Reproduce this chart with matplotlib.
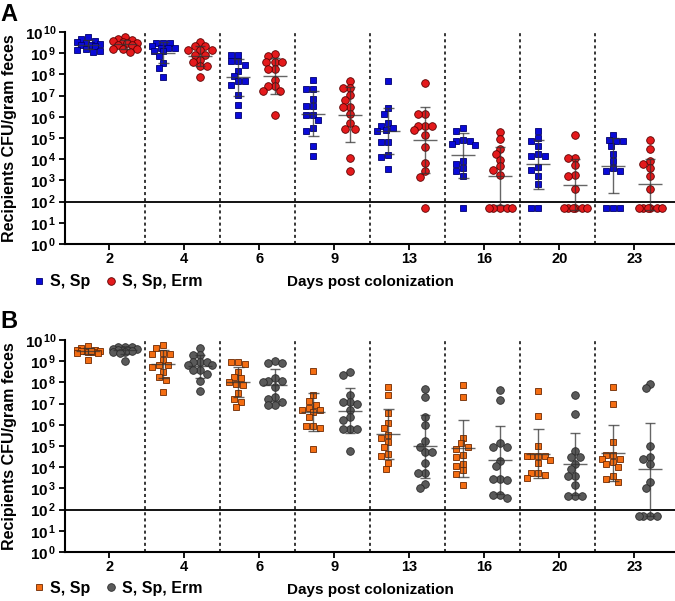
import numpy as np
import matplotlib
matplotlib.use("Agg")
import matplotlib.pyplot as plt
from matplotlib.lines import Line2D

plt.rcParams["font.family"] = ["Liberation Sans", "DejaVu Sans"]
plt.rcParams["font.weight"] = "bold"
plt.rcParams["mathtext.fontset"] = "custom"
plt.rcParams["mathtext.rm"] = "Liberation Sans:bold"
plt.rcParams["mathtext.it"] = "Liberation Sans:bold"
plt.rcParams["mathtext.bf"] = "Liberation Sans:bold"
plt.rcParams["mathtext.default"] = "rm"

days = ["2", "4", "6", "9", "13", "16", "20", "23"]
lod = 100  # detection limit line

# log10 CFU/gram feces (values below LOD drawn at ~10^1.7)
a_sp = [
    [9.75, 9.65, 9.6, 9.55, 9.5, 9.45, 9.4, 9.4, 9.35, 9.2, 9.15, 9.1, 9.05],
    [9.48, 9.48, 9.48, 9.35, 9.25, 9.25, 9.25, 9.09, 9.09, 8.85, 8.55, 8.3, 7.86],
    [8.93, 8.93, 8.62, 8.62, 8.46, 8.14, 7.91, 7.67, 7.67, 7.52, 7.04, 6.57, 6.1],
    [7.75, 7.31, 7.31, 6.84, 6.53, 6.53, 6.1, 6.1, 5.83, 5.47, 5.31, 4.64, 4.14],
    [7.67, 6.41, 6.15, 5.71, 5.58, 5.47, 5.36, 5.31, 4.81, 4.81, 4.21, 4.1, 3.54],
    [5.47, 5.31, 4.92, 4.84, 4.84, 4.72, 4.67, 3.9, 3.77, 3.58, 3.43, 3.22, 1.7],
    [5.35, 5.0, 4.87, 4.61, 4.26, 4.14, 4.14, 3.62, 3.51, 3.19, 2.85, 1.7, 1.7],
    [5.16, 4.9, 4.87, 4.87, 4.61, 4.26, 3.9, 3.58, 3.43, 3.43, 1.7, 1.7, 1.7],
]
a_erm = [
    [9.75, 9.67, 9.64, 9.57, 9.52, 9.48, 9.48, 9.4, 9.4, 9.22, 9.2, 9.2, 9.05],
    [9.53, 9.32, 9.32, 9.17, 9.17, 9.17, 8.93, 8.93, 8.7, 8.6, 8.38, 8.38, 7.9],
    [8.98, 8.85, 8.57, 8.57, 8.57, 8.25, 8.25, 7.75, 7.44, 7.44, 7.2, 7.2, 6.07],
    [7.7, 7.36, 7.36, 7.04, 6.81, 6.46, 6.46, 6.15, 5.71, 5.44, 5.44, 4.06, 3.43],
    [7.59, 6.15, 6.15, 5.58, 5.58, 5.58, 5.39, 5.16, 4.58, 3.82, 3.43, 3.16, 1.7],
    [5.28, 4.95, 4.48, 4.26, 3.98, 3.66, 3.51, 3.27, 1.7, 1.7, 1.7, 1.7, 1.7],
    [5.16, 4.06, 4.06, 3.74, 3.27, 3.2, 2.59, 1.7, 1.7, 1.7, 1.7, 1.7, 1.7],
    [4.89, 4.5, 3.93, 3.77, 3.58, 3.19, 2.59, 1.7, 1.7, 1.7, 1.7, 1.7, 1.7],
]
b_sp = [
    [9.72, 9.61, 9.55, 9.53, 9.5, 9.5, 9.48, 9.45, 9.45, 9.4, 9.37, 9.5, 9.06],
    [9.76, 9.61, 9.37, 9.34, 9.34, 9.06, 8.82, 8.82, 8.75, 8.5, 8.27, 8.11, 7.56],
    [8.98, 8.98, 8.87, 8.5, 8.24, 8.19, 8.03, 7.95, 7.9, 7.48, 7.24, 7.09, 6.85],
    [8.54, 7.4, 7.13, 6.93, 6.8, 6.72, 6.72, 6.61, 6.38, 5.94, 5.94, 5.87, 4.88],
    [7.8, 7.43, 6.54, 6.11, 5.86, 5.54, 5.39, 5.2, 4.96, 4.61, 4.55, 4.22, 3.94],
    [7.86, 7.29, 5.4, 5.12, 4.96, 4.85, 4.6, 4.46, 4.17, 4.05, 3.86, 3.7, 3.18],
    [7.61, 6.43, 4.99, 4.54, 4.54, 4.54, 4.54, 4.36, 4.2, 3.73, 3.73, 3.62, 3.5],
    [7.8, 6.96, 5.17, 4.57, 4.57, 4.41, 4.4, 4.25, 4.14, 4.02, 3.57, 3.43, 3.31],
]
b_erm = [
    [9.69, 9.69, 9.69, 9.6, 9.56, 9.55, 9.53, 9.53, 9.5, 9.45, 9.45, 9.37, 9.02],
    [9.61, 9.29, 9.29, 8.98, 8.98, 8.98, 8.82, 8.82, 8.58, 8.58, 8.39, 8.06, 7.59],
    [9.0, 8.93, 8.93, 8.19, 8.06, 8.06, 8.03, 7.8, 7.29, 7.24, 7.09, 6.93, 6.93],
    [8.5, 8.35, 7.4, 7.09, 7.09, 6.98, 6.69, 6.35, 6.22, 5.78, 5.78, 5.78, 4.76],
    [7.67, 7.29, 6.38, 5.97, 5.23, 4.96, 4.72, 4.72, 4.2, 3.73, 3.73, 3.23, 3.02],
    [7.64, 7.17, 5.15, 4.96, 4.96, 4.3, 4.05, 3.46, 3.46, 3.39, 2.71, 2.71, 2.57],
    [7.4, 6.5, 4.76, 4.49, 4.49, 4.17, 3.9, 3.59, 3.59, 3.15, 2.63, 2.63, 2.63],
    [7.95, 7.72, 4.99, 4.5, 4.41, 4.13, 3.31, 3.04, 1.69, 1.69, 1.69, 1.69],
]


def swarm(vals, d=0.062, xpx=75.0, ypx=21.2, size=6.3, maxk=5):
    # small beeswarm: shift sideways in half steps on overlap, at most +-maxk/2 steps
    cands = [0.0]
    for k in range(1, maxk + 1):
        cands += [-k * d / 2, k * d / 2]
    order = np.argsort(-vals, kind="stable")
    placed = []
    offs = np.zeros(len(vals))
    for i in order:
        best, best_dist = 0.0, -1.0
        for c in cands:
            dist = min([np.hypot((c - ox) * xpx, (vals[i] - oy) * ypx)
                        for ox, oy in placed] or [99.0])
            if dist >= size:
                best = c
                break
            if dist > best_dist:
                best, best_dist = c, dist
        offs[i] = best
        placed.append((best, vals[i]))
    return offs


def draw_group(ax, center, logs, marker, face, edge, ms):
    logs = np.array(logs)
    x = center + swarm(logs)
    ax.plot(x, 10 ** logs, linestyle="none", marker=marker, ms=ms,
            mfc=face, mec=edge, mew=0.6, zorder=3)
    m, s = logs.mean(), logs.std(ddof=1)
    bar_kw = dict(color="#333333", alpha=0.75, lw=1.0, zorder=4)
    ax.vlines(center, 10 ** (m - s), 10 ** (m + s), **bar_kw)
    ax.hlines([10 ** (m - s), 10 ** (m + s)], center - 0.07, center + 0.07, **bar_kw)
    ax.hlines(10 ** m, center - 0.16, center + 0.16, **bar_kw)


def draw_panel(ax, sp, erm, sp_style, erm_style):
    for i in range(len(days)):
        draw_group(ax, i - 0.28, sp[i], "s", *sp_style)
        draw_group(ax, i + 0.21, erm[i], "o", *erm_style)
    for i in range(len(days) - 1):
        ax.axvline(i + 0.47, color="black", ls=(0, (2, 2)), lw=1.1, zorder=1)
    ax.axhline(lod, color="black", lw=1.3, zorder=2)

    ax.set_yscale("log")
    ax.set_ylim(1, 1e10)
    ax.set_xlim(-0.59, 7.54)
    ax.set_yticks([10.0 ** k for k in range(11)])
    ax.set_yticklabels([r"$10^{\,%d}$" % k for k in range(11)])
    ax.yaxis.set_minor_locator(matplotlib.ticker.NullLocator())
    ax.set_xticks(range(len(days)))
    ax.set_xticklabels(days)
    ax.tick_params(axis="both", labelsize=10.5, width=1.3, length=4, pad=2)
    ax.tick_params(axis="y", labelsize=11)
    for side in ["top", "right"]:
        ax.spines[side].set_visible(False)
    for side in ["left", "bottom"]:
        ax.spines[side].set_linewidth(1.5)
    ax.text(0.5, -0.18, "Days post colonization", transform=ax.transAxes,
            ha="center", va="center", fontsize=11, fontweight="bold")


fig = plt.figure(figsize=(6.75, 6.01), dpi=100)
ax_a = fig.add_axes([0.0963, 0.594, 0.9037, 0.3527])
ax_b = fig.add_axes([0.0963, 0.0815, 0.9037, 0.3527])

blue = ("#0a0ad8", "#00006e", 4.8)
red = ("#e41a1c", "#5a0000", 5.5)
orange = ("#f46d12", "#6e2800", 4.8)
grey = ("#5a5a5a", "#2a2a2a", 5.5)

draw_panel(ax_a, a_sp, a_erm, blue, red)
draw_panel(ax_b, b_sp, b_erm, orange, grey)

for ax, y, sp_c, erm_c in [(ax_a, 0.531, blue, red), (ax_b, 0.0216, orange, grey)]:
    bb = ax.get_position()
    fig.text(0.014, (bb.y0 + bb.y1) / 2, "Recipients CFU/gram feces",
             rotation=90, ha="center", va="center", fontsize=11.5,
             fontweight="bold")
    handles = [
        Line2D([], [], ls="none", marker="s", ms=sp_c[2], mfc=sp_c[0], mec=sp_c[1], mew=0.6),
        Line2D([], [], ls="none", marker="o", ms=erm_c[2], mfc=erm_c[0], mec=erm_c[1], mew=0.6),
    ]
    fig.legend(handles, ["S, Sp", "S, Sp, Erm"], loc="center left",
               bbox_to_anchor=(0.05, y), ncol=2, frameon=False,
               handlelength=0.6, handletextpad=0.4, columnspacing=1.0,
               borderpad=0, borderaxespad=0,
               prop={"size": 11.5, "weight": "bold"})

fig.text(0.0, 1 - 3 / 601, "A", ha="left", va="top", fontsize=17, fontweight="bold")
fig.text(0.0, 1 - 310 / 601, "B", ha="left", va="top", fontsize=17, fontweight="bold")

fig.savefig("out.png", dpi=100)
